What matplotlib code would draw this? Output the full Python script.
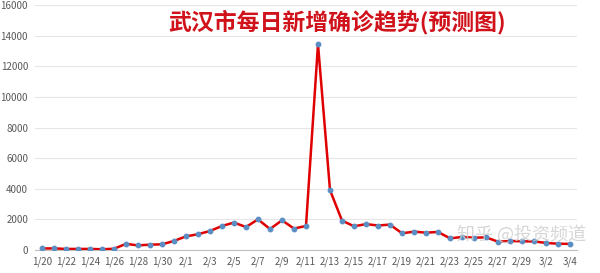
import matplotlib
matplotlib.use("Agg")
import matplotlib.pyplot as plt
import numpy as np

plt.rcParams['font.family'] = ['Noto Sans CJK SC', 'DejaVu Sans']

# data (Wuhan daily new confirmed, with forecast)
dates = ["1/20", "1/21", "1/22", "1/23", "1/24", "1/25", "1/26", "1/27", "1/28", "1/29",
         "1/30", "1/31", "2/1", "2/2", "2/3", "2/4", "2/5", "2/6", "2/7", "2/8",
         "2/9", "2/10", "2/11", "2/12", "2/13", "2/14", "2/15", "2/16", "2/17", "2/18",
         "2/19", "2/20", "2/21", "2/22", "2/23", "2/24", "2/25", "2/26", "2/27", "2/28",
         "2/29", "3/1", "3/2", "3/3", "3/4"]
new_cases = [100, 105, 70, 70, 70, 50, 80, 400, 300, 350,
             370, 590, 890, 1030, 1240, 1570, 1790, 1500, 2000, 1370,
             1940, 1400, 1570, 13436, 3910, 1923, 1548, 1690, 1600, 1660,
             1090, 1200, 1130, 1180, 760, 850, 800, 830, 540, 590,
             570, 560, 460, 410, 400]
title = "武汉市每日新增确诊趋势(预测图)"

fig = plt.figure(figsize=(6, 2.73), dpi=100)
ax = fig.add_axes([35/600, 1-250/273, 542/600, 245/273])

x = np.arange(len(dates))
ax.plot(x, new_cases, color="#e00000", lw=1.8, marker="o", ms=3.2,
        mfc="#5b8fc4", mec="#5b8fc4", zorder=3)

ax.set_xlim(-0.58, len(dates) - 1 + 0.58)
ax.set_ylim(0, 16000)
ax.set_yticks(np.arange(0, 16001, 2000))
ax.set_xticks(x[::2])
ax.set_xticklabels(dates[::2])
ax.grid(axis="y", color="#e6e6e6", lw=0.8)
ax.set_axisbelow(True)
for s in ["left", "right", "top"]:
    ax.spines[s].set_visible(False)
ax.spines["bottom"].set_color("#bfbfbf")
ax.tick_params(length=0, labelsize=7, colors="#595959", pad=5)

fig.text(0.562, 0.92, title, color="#d0121b", fontsize=16.5, fontweight="bold",
         ha="center", va="center")
fig.text(0.977, 0.14, "知乎 @投资频道", color="#cccccc", fontsize=13,
         ha="right", va="center", alpha=0.8)

fig.savefig("out.png", dpi=100)
